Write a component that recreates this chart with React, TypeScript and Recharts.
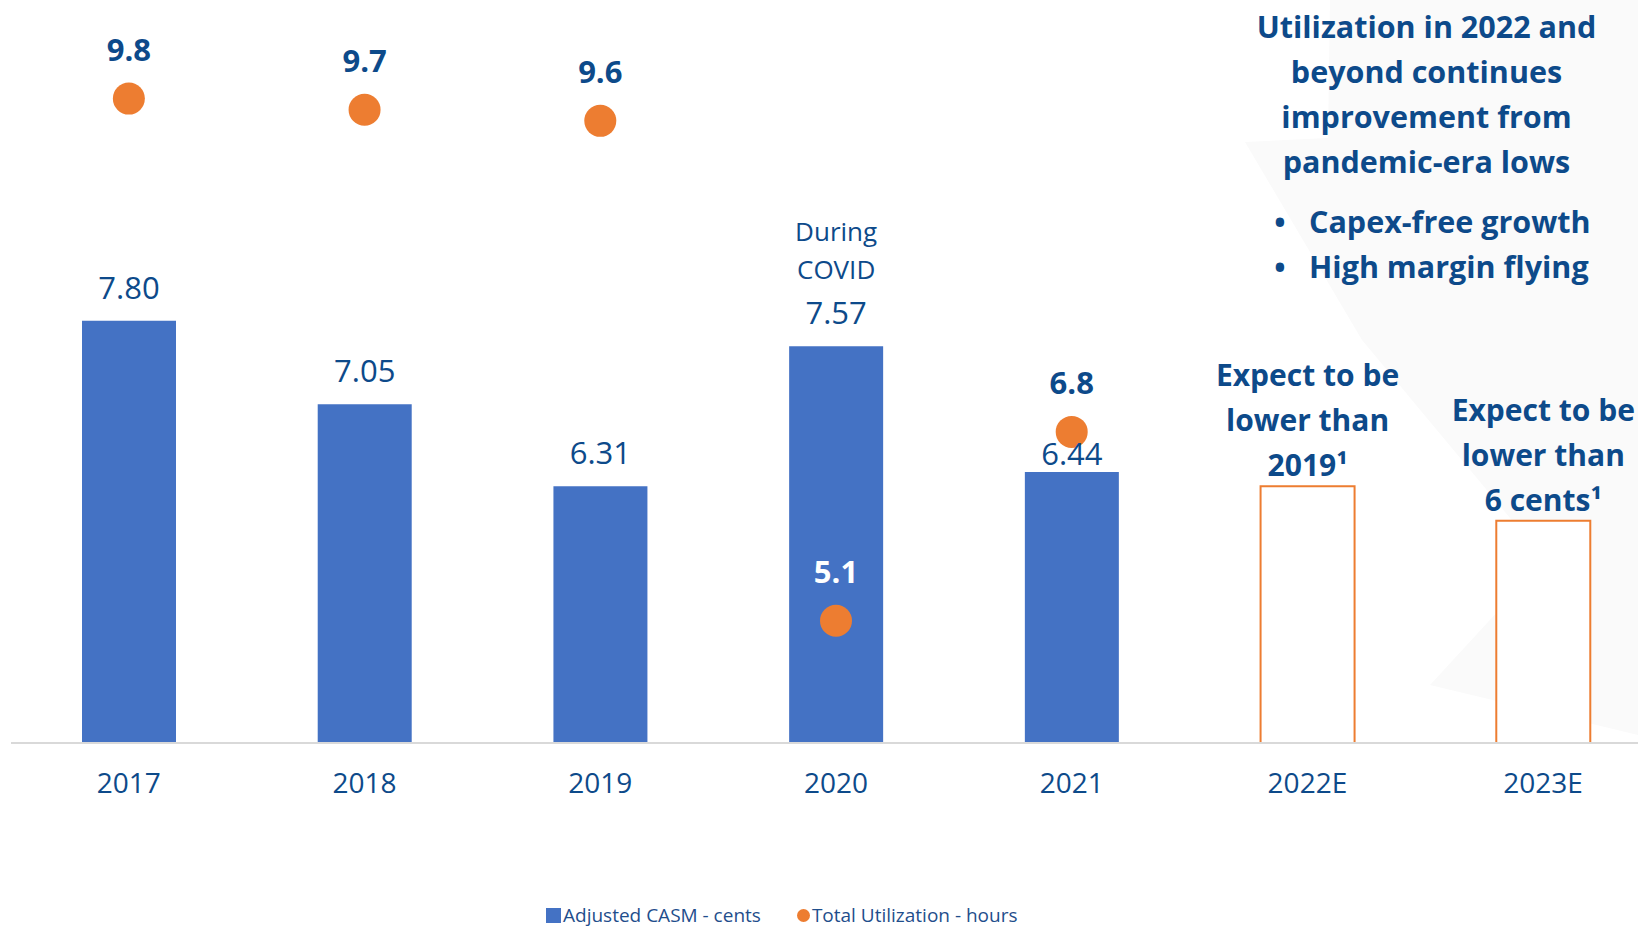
import { ComposedChart, Bar, Line, XAxis, YAxis, Cell, LabelList } from 'recharts'

const years = ['2017', '2018', '2019', '2020', '2021', '2022E', '2023E']
const casm = [7.8, 7.05, 6.31, 7.57, 6.44, 6.31, 6.0]
const utilization: Array<number | null> = [9.8, 9.7, 9.6, 5.1, 6.8, null, null]
const projected = [false, false, false, false, false, true, true]
const barNotes: string[][] = [
  [], [], [], ['During', 'COVID'], [],
  ['Expect to be', 'lower than', '2019¹'],
  ['Expect to be', 'lower than', '6 cents¹'],
]
const titleLines = ['Utilization in 2022 and', 'beyond continues', 'improvement from', 'pandemic-era lows']
const bullets = ['Capex-free growth', 'High margin flying']
const legendItems = [
  { name: 'Adjusted CASM - cents', color: '#4472C4', shape: 'square' },
  { name: 'Total Utilization - hours', color: '#ED7D31', shape: 'circle' },
]

const data = years.map((year, i) => ({
  year,
  casm: casm[i],
  util: utilization[i],
}))

const FONT = '"Open Sans", sans-serif'
const NAVY = '#0D4A8A'
const BLUE = '#4472C4'
const ORANGE = '#ED7D31'

function BarLabel(props: any) {
  const { x, y, width, value, index } = props
  const cx = x + width / 2
  if (projected[index]) {
    const lines = barNotes[index]
    return (
      <g>
        {lines.map((line, i) => (
          <text key={i} x={cx} y={y - 10 - (lines.length - 1 - i) * 45} textAnchor="middle"
            fontFamily={FONT} fontWeight={700} fontSize={30} fill={NAVY}>{line}</text>
        ))}
      </g>
    )
  }
  const notes = barNotes[index]
  // the 2021 value sits lower, tucked right on top of its bar
  const lift = index === 4 ? 7 : 22
  return (
    <g>
      {notes.map((line, i) => (
        <text key={i} x={cx} y={y - 67 - (notes.length - 1 - i) * 38} textAnchor="middle"
          fontFamily={FONT} fontSize={26} fill={NAVY}>{line}</text>
      ))}
      <text x={cx} y={y - lift} textAnchor="middle" fontFamily={FONT} fontSize={31} fill={NAVY}>
        {Number(value).toFixed(2)}
      </text>
    </g>
  )
}

function DotLabel(props: any) {
  const { x, y, value, index } = props
  if (value == null) return null
  return (
    <text x={x} y={y - 38} textAnchor="middle" fontFamily={FONT} fontWeight={700} fontSize={31}
      fill={index === 3 ? '#FFFFFF' : NAVY}>{Number(value).toFixed(1)}</text>
  )
}

function YearTick(props: any) {
  const { x, y, payload } = props
  return (
    <text x={x} y={y + 42} textAnchor="middle" fontFamily={FONT} fontSize={28} fill={NAVY}>
      {payload.value}
    </text>
  )
}

export default function App() {
  return (
    <div style={{ position: 'absolute', left: 0, top: 0, width: 1638, height: 930, overflow: 'hidden', background: '#fff', fontFamily: FONT }}>
      {/* faint watermark logo behind the chart */}
      <svg width={1638} height={930} style={{ position: 'absolute', left: 0, top: 0 }}>
        <polygon points="1330,0 1638,0 1638,735 1430,685 1545,560 1362,340 1245,142 1328,138" fill="#FAFAFA" />
      </svg>
      <div style={{ position: 'absolute', left: 0, top: 0 }}>
        <ComposedChart width={1672} height={930} data={data}
          margin={{ top: 76.4, right: 11, left: 11, bottom: 157 }} barCategoryGap="30%">
          <XAxis dataKey="year" axisLine={{ stroke: '#D9D9D9', strokeWidth: 2 }} tickLine={false}
            tick={<YearTick />} interval={0} />
          <YAxis hide domain={[4, 10]} />
          <Bar dataKey="casm" barSize={94} isAnimationActive={false}>
            {data.map((d, i) => (
              <Cell key={d.year} fill={projected[i] ? '#FFFFFF' : BLUE}
                stroke={projected[i] ? ORANGE : 'none'} strokeWidth={projected[i] ? 2 : 0} />
            ))}
            <LabelList dataKey="casm" content={<BarLabel />} />
          </Bar>
          <Line dataKey="util" stroke="none" isAnimationActive={false} connectNulls={false}
            dot={{ r: 16, fill: ORANGE, stroke: 'none', strokeWidth: 0 }} activeDot={false}>
            <LabelList dataKey="util" content={<DotLabel />} />
          </Line>
        </ComposedChart>
      </div>
      <svg width={1638} height={930} style={{ position: 'absolute', left: 0, top: 0, pointerEvents: 'none' }}>
        {titleLines.map((line, i) => (
          <text key={line} x={1426.5} y={38 + i * 45} textAnchor="middle" fontFamily={FONT}
            fontWeight={700} fontSize={30.5} fill={NAVY}>{line}</text>
        ))}
        {bullets.map((line, i) => (
          <g key={line}>
            <text x={1280} y={233 + i * 45} textAnchor="middle" fontFamily={FONT} fontWeight={700}
              fontSize={30} fill={NAVY}>•</text>
            <text x={1309} y={233 + i * 45} fontFamily={FONT} fontWeight={700} fontSize={30.5}
              fill={NAVY}>{line}</text>
          </g>
        ))}
      </svg>
      <div style={{ position: 'absolute', left: 546, top: 906, height: 19, lineHeight: '19px', display: 'flex', alignItems: 'center', fontSize: 19, color: '#1F4E8C', whiteSpace: 'nowrap' }}>
        {legendItems.map((item, i) => (
          <div key={item.name} style={{ display: 'flex', alignItems: 'center', marginRight: i === 0 ? 36 : 0 }}>
            <span style={{
              display: 'inline-block',
              width: item.shape === 'square' ? 15 : 13,
              height: item.shape === 'square' ? 15 : 13,
              borderRadius: item.shape === 'circle' ? '50%' : 0,
              background: item.color,
              marginRight: 2,
            }} />
            <span>{item.name}</span>
          </div>
        ))}
      </div>
    </div>
  )
}
